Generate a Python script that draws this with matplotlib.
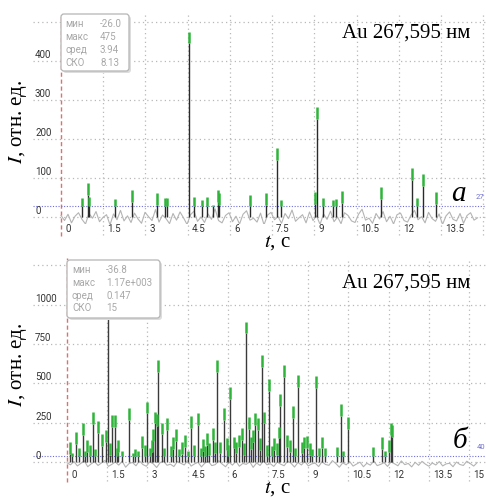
import numpy as np
import matplotlib
matplotlib.use('Agg')
import matplotlib.pyplot as plt
import matplotlib.transforms as mtransforms
from matplotlib.patches import FancyBboxPatch

plt.rcParams['mathtext.fontset'] = 'stix'

# --- data ---
x_ticks = [0, 1.5, 3, 4.5, 6, 7.5, 9, 10.5, 12, 13.5, 15]
x_tick_labels = ['0', '1.5', '3', '4.5', '6', '7.5', '9', '10.5', '12', '13.5', '15']

# panel a
a_yticks = [0, 100, 200, 300, 400]
a_threshold = 27
a_stats = ['-26.0', '475', '3.94', '8.13']
a_spike_t = [0.74, 0.97, 1.0, 1.92, 2.52, 3.41, 3.69, 3.77, 4.55, 4.72, 5.0, 5.18, 5.4, 5.58, 5.62,
             6.71, 7.28, 7.67, 7.82, 9.02, 9.1, 9.3, 9.66, 9.77, 9.98, 11.37, 12.47, 12.65, 12.86, 13.32]
a_spike_v = [49, 87, 51, 46, 69, 62, 49, 49, 475, 51, 44, 51, 31, 69, 62,
             56, 62, 177, 44, 64, 282, 49, 44, 46, 67, 77, 126, 49, 110, 64]
a_noise = [4, -9, 7, -15, 2, 11, -6, -18, 9, -3, 14, -12, -1, 6, -20, 8, -7, 17, -10, 3, -14, 10, -5, -16,
           12, 1, -9, 19, -13, 5, -4, -17, 9, -8, 13, -2, -19, 6, 15, -11, 0, -14, 8, -6, 21, -9, -15, 4,
           11, -12, 2, -18, 7, 16, -8, -3, -13, 10, -20, 5, 12, -7, 1, -16, 9, -4, 18, -11, -2, 6, -15, 13,
           -9, 3, -19, 8, -6, 15, -12, 0, -17, 11, 4, -10, -14, 7, 20, -8, -3, -16, 9, -5, 14, -12, 2, -18,
           6, 10, -9, -13, 5, 17, -7, 1, -15, 12, -4, -11, 8, -19, 3, 13, -6, -10, 9, -16, 4, 11, -8, -2]

# panel b
b_yticks = [0, 250, 500, 750, 1000]
b_threshold = 40
b_stats = ['-36.8', '1.17e+003', '0.147', '15']
b_spike_t = [0.10, 0.20, 0.33, 0.45, 0.60, 0.68, 0.75, 0.85, 0.96, 1.05, 1.17, 1.30, 1.45, 1.52, 1.60,
             1.67, 1.79, 1.85, 1.91, 2.05, 2.32, 2.45, 2.54, 2.65, 2.79, 2.90, 2.97, 3.08, 3.17, 3.22,
             3.28, 3.35, 3.41, 3.53, 3.62, 3.74, 3.87, 3.96, 4.07, 4.18, 4.29, 4.40, 4.50, 4.61, 4.72,
             4.90, 4.98, 5.07, 5.15, 5.21, 5.30, 5.44, 5.52, 5.61, 5.70, 5.86, 5.95, 6.02, 6.08, 6.23,
             6.32, 6.42, 6.52, 6.60, 6.68, 6.77, 6.85, 6.92, 7.01, 7.14, 7.20, 7.26, 7.35, 7.45, 7.55,
             7.64, 7.72, 7.82, 7.92, 7.95, 8.10, 8.20, 8.30, 8.42, 8.52, 8.63, 8.75, 8.84, 8.94, 9.05,
             9.15, 9.29, 9.40, 9.50, 9.62, 10.06, 10.22, 10.30, 10.49, 11.42, 11.75, 11.85, 12.00, 12.10, 12.13]
b_spike_v = [127, 60, 190, 90, 248, 70, 140, 110, 318, 80, 260, 178, 203, 1170, 120,
             300, 300, 90, 140, 70, 343, 60, 83, 70, 165, 110, 384, 90, 140, 210,
             320, 305, 649, 250, 90, 278, 100, 159, 208, 80, 127, 172, 70, 293, 110,
             310, 90, 146, 100, 182, 120, 214, 130, 649, 130, 341, 150, 110, 475, 161,
             130, 172, 214, 120, 893, 288, 160, 203, 310, 278, 150, 680, 320, 110, 526,
             100, 150, 120, 225, 433, 617, 172, 140, 356, 90, 553, 130, 161, 165, 121,
             80, 547, 90, 161, 90, 97, 369, 70, 286, 95, 159, 70, 140, 248, 235]
b_noise = [-5, -18, 3, -25, -9, 8, -30, -12, 2, -22, -6, 10, -28, -15, 0, -20, 5, -33, -10, -3, -24, 7,
           -16, -27, 1, -11, -35, -4, 6, -21, -14, -29, 3, -8, -19, 9, -26, -12, -2, -31, -7, 4, -23, -17,
           8, -13, -30, -1, -20, 5, -27, -9, -15, 2, -34, -6, -22, 7, -18, -11, -28, 0, -14, -24, 6, -8,
           -32, -3, -19, 4, -25, -12, -7, -29, 2, -16, -21, 9, -10, -33, -5, -18, 3, -26, -13, -1, -30, -8,
           -20, 5, -23, -15, -4, -28, 1, -11, -24, 7, -17, -9, -31, -2, -21, 4, -14, -27, -6, -19, 3, -25,
           -12, -8, -30, 0, -16, -22, 5, -10, -26, -4]

stat_names = ['мин', 'макс', 'сред', 'СКО']

W, H = 486, 497
fig = plt.figure(figsize=(W / 100, H / 100), dpi=100)


def fx(x):
    return x / W


def fy(y):
    return 1 - y / H


tick_font = dict(family='Roboto', size=7, color='#333333')
serif = ['Liberation Serif', 'DejaVu Serif']
green = '#2fb43a'


def panel(top, bottom, xlim, ylim, yticks, thr, spike_t, spike_v, noise, noise_end, glen,
          show_ticks, stem_color):
    ax = fig.add_axes([fx(33), fy(bottom), fx(486) - fx(33), (bottom - top) / H])
    ax.set_xlim(*xlim)
    ax.set_ylim(*ylim)
    for s in ax.spines.values():
        s.set_visible(False)
    ax.set_xticks([])
    ax.set_yticks([])
    grid_kw = dict(color='#b8b8b8', lw=0.9, ls=(0, (1, 2.5)), zorder=0)
    for v in yticks + [yticks[-1] + yticks[1]]:
        ax.axhline(v, **grid_kw)
    for t in x_ticks[1:]:
        ax.axvline(t, ymin=-0.05, ymax=1, clip_on=False, **grid_kw)
    ax.axvline(0, ymin=-0.055, ymax=1, clip_on=False, color='#e07070', lw=1.0, ls=(0, (3, 2)), zorder=1)

    nt = np.linspace(0, noise_end, len(noise))
    ax.plot(nt, noise, color='#b4b4b4', lw=0.8, zorder=2)
    ax.axhline(thr, color='#7070dd', lw=0.8, ls=(0, (1, 1.5)), zorder=3)

    st = np.array(spike_t)
    sv = np.array(spike_v)
    gbot = np.maximum(sv - glen, thr)
    ax.vlines(st, 0, gbot, color=stem_color, lw=1.0, zorder=4)
    ax.vlines(st, gbot, sv, color=green, lw=1.8, zorder=5)

    ylab_tr = mtransforms.offset_copy(ax.get_yaxis_transform(), fig, x=2, y=1, units='dots')
    for v in yticks:
        ax.text(0, v, str(v), transform=ylab_tr, ha='left', va='bottom', **tick_font)
    xlab_tr = mtransforms.offset_copy(ax.get_xaxis_transform(), fig, x=4, y=-5, units='dots')
    for t, lab in zip(x_ticks[:show_ticks], x_tick_labels[:show_ticks]):
        ax.text(t, 0, lab, transform=xlab_tr, ha='left', va='center', **tick_font)
    return ax


ax1 = panel(14, 224, (-0.995, 15.1), (-17.9, 520.5), a_yticks, a_threshold,
            a_spike_t, a_spike_v, a_noise, 14.8, 30, 10, '#2a2a2a')
ax2 = panel(258, 470, (-1.27, 15.63), (-50.9, 1297.7), b_yticks, b_threshold,
            b_spike_t, b_spike_v, b_noise, 15.3, 75, 11, '#3a3a3a')


def stats_box(x0, y0, x1, y1, lab_x, val_x, rows_y, values):
    shadow = FancyBboxPatch((fx(x0 + 2), fy(y1 + 2)), fx(x1) - fx(x0), (y1 - y0) / H,
                            boxstyle='round,pad=0,rounding_size=0.006', transform=fig.transFigure,
                            facecolor='#dddddd', edgecolor='none', zorder=9)
    box = FancyBboxPatch((fx(x0), fy(y1)), fx(x1) - fx(x0), (y1 - y0) / H,
                         boxstyle='round,pad=0,rounding_size=0.006', transform=fig.transFigure,
                         facecolor='white', edgecolor='#b5b5b5', lw=0.9, zorder=10)
    fig.add_artist(shadow)
    fig.add_artist(box)
    for name, val, y in zip(stat_names, values, rows_y):
        fig.text(fx(lab_x), fy(y), name, ha='left', va='center', family='Roboto', size=7,
                 color='#a8a8a8', zorder=11)
        fig.text(fx(val_x), fy(y), val, ha='left', va='center', family='Roboto', size=7,
                 color='#a8a8a8', zorder=11)


stats_box(61, 14, 129, 71, 65, 100, [24, 37, 50, 63], a_stats)
stats_box(67, 260, 160, 318, 72, 106, [270, 283, 296, 308], b_stats)

# titles, letters, axis labels
for y in (33, 283):
    fig.text(fx(470), fy(y), 'Au 267,595 нм', ha='right', va='center', family=serif, size=15)
fig.text(fx(458), fy(194), 'а', ha='center', va='center', family=serif, style='italic', size=21)
fig.text(fx(460), fy(441), 'б', ha='center', va='center', family=serif, style='italic', size=21)
fig.text(fx(476), fy(197), str(a_threshold), ha='left', va='center', family='Roboto', size=5.5, color='#7070d0')
fig.text(fx(477), fy(447), str(b_threshold), ha='left', va='center', family='Roboto', size=5.5, color='#7070d0')

for y in (122, 365):
    fig.text(fx(18), fy(y), r'$I$, отн. ед.', rotation=90, ha='center', va='center', family=serif, size=15)
for y in (243, 489):
    fig.text(fx(277), fy(y), r'$t$, с', ha='center', va='center', family=serif, size=15)

fig.savefig('out.png', dpi=100)
